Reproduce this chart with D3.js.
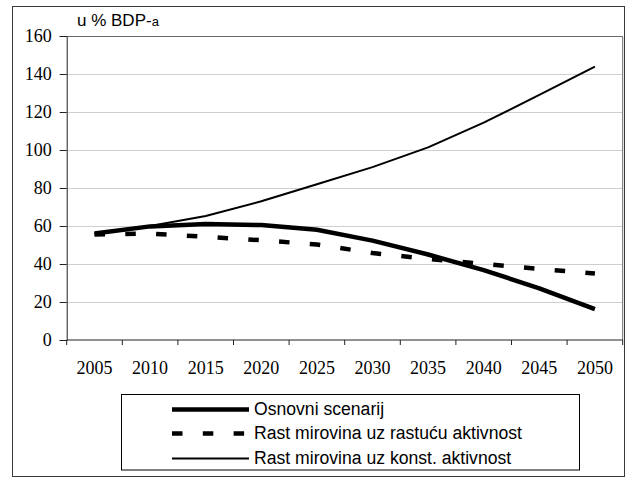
<!DOCTYPE html>
<html><head><meta charset="utf-8">
<script src="https://cdn.jsdelivr.net/npm/d3@7"></script>
<style>body{margin:0;background:#fff}svg{display:block}
.serif{font-family:"Liberation Serif","Times New Roman",serif !important}
.sans{font-family:"Liberation Sans",Arial,sans-serif !important}
</style>
</head><body>
<script>
const years = ["2005","2010","2015","2020","2025","2030","2035","2040","2045","2050"];
const osnovni = [56, 59.8, 61, 60.5, 58, 52.3, 45, 36.8, 27.2, 16.2];
const rastucu = [55.5, 56, 54.3, 52.5, 50.3, 45.8, 42.7, 40, 37.4, 35];
const konst = [56, 60, 65.3, 73, 82, 91, 101.4, 114.4, 129, 143.9];
const yTicks = [0, 20, 40, 60, 80, 100, 120, 140, 160];
const seriesNames = ["Osnovni scenarij", "Rast mirovina uz rastuću aktivnost", "Rast mirovina uz konst. aktivnost"];

(function () {
const W = 627, H = 478;
const svg = d3.select("body").append("svg").attr("width", W).attr("height", H);

// outer frame
svg.append("rect").attr("x", 12.5).attr("y", 6.5).attr("width", 612).attr("height", 470)
  .attr("fill", "#fff").attr("stroke", "#3a3a3a").attr("stroke-width", 1);

const pL = 66.7, pR = 622.7, pT = 36, pB = 340;
const x = d3.scaleBand().domain(years).range([pL, pR]);
const y = d3.scaleLinear().domain([0, 160]).range([pB, pT]);

// gridlines
svg.append("g").selectAll("line").data(yTicks.filter(t => t > 0 && t < 160)).join("line")
  .attr("x1", pL).attr("x2", pR)
  .attr("y1", d => y(d) + 0.5).attr("y2", d => y(d) + 0.5)
  .attr("stroke", "#cfcfcf").attr("stroke-width", 1);

// plot border (top, right)
svg.append("path")
  .attr("d", `M${pL},${pT + 0.5}H${pR}V${pB}`)
  .attr("fill", "none").attr("stroke", "#6a6a6a").attr("stroke-width", 1);

// y axis
const yAxis = d3.axisLeft(y).tickValues(yTicks).tickSize(7).tickPadding(8);
const gy = svg.append("g").attr("transform", `translate(${pL},0)`).call(yAxis)
  .attr("font-family", null).attr("font-size", null);
gy.select(".domain").attr("stroke", "#222");
gy.selectAll(".tick line").attr("stroke", "#222");
gy.selectAll("text").attr("class", "serif").style("font-size", "18px").attr("fill", "#000");

// x axis with boundary ticks
const gx = svg.append("g").attr("transform", `translate(0,${pB})`);
gx.append("line").attr("x1", pL).attr("x2", pR).attr("y1", 0).attr("y2", 0).attr("stroke", "#222");
const bounds = years.map(d => x(d)).concat([pR]);
gx.selectAll("line.tk").data(bounds).join("line").attr("class", "tk")
  .attr("x1", d => d).attr("x2", d => d).attr("y1", 0).attr("y2", 5).attr("stroke", "#222");
gx.selectAll("text").data(years).join("text")
  .attr("class", "serif")
  .attr("x", d => x(d) + x.bandwidth() / 2).attr("y", 34)
  .attr("text-anchor", "middle")
  .style("font-size", "18px")
  .text(d => d);

// lines
const line = d3.line().x((d, i) => x(years[i]) + x.bandwidth() / 2).y(d => y(d));
svg.append("path").datum(konst).attr("d", line).attr("fill", "none")
  .attr("stroke", "#000").attr("stroke-width", 2).attr("stroke-linejoin", "round");
svg.append("path").datum(rastucu).attr("d", line).attr("fill", "none")
  .attr("stroke", "#000").attr("stroke-width", 4.5).attr("stroke-dasharray", "10.5,20.3");
svg.append("path").datum(osnovni).attr("d", line).attr("fill", "none")
  .attr("stroke", "#000").attr("stroke-width", 4.5).attr("stroke-linejoin", "round");

// title
const t = svg.append("text").attr("class", "sans").attr("x", 77).attr("y", 26)
  .style("font-size", "17px");
t.append("tspan").text("u % BDP-");
t.append("tspan").style("font-size", "13px").text("a");

// legend
svg.append("rect").attr("x", 121.5).attr("y", 394.5).attr("width", 458).attr("height", 75.5)
  .attr("fill", "#fff").attr("stroke", "#000").attr("stroke-width", 1);
const legY = [415, 439, 464];
const styles = [
  {w: 4.5, dash: null},
  {w: 4.5, dash: "10.5,20.3"},
  {w: 2, dash: null}
];
const lg = svg.append("g");
seriesNames.forEach((name, i) => {
  lg.append("line").attr("x1", 172).attr("x2", 249)
    .attr("y1", legY[i] - 5.5).attr("y2", legY[i] - 5.5)
    .attr("stroke", "#000").attr("stroke-width", styles[i].w)
    .attr("stroke-dasharray", styles[i].dash);
  lg.append("text").attr("class", "sans").attr("x", 254).attr("y", legY[i])
    .style("font-size", "17.6px")
    .text(name);
});
})();
</script>
</body></html>
